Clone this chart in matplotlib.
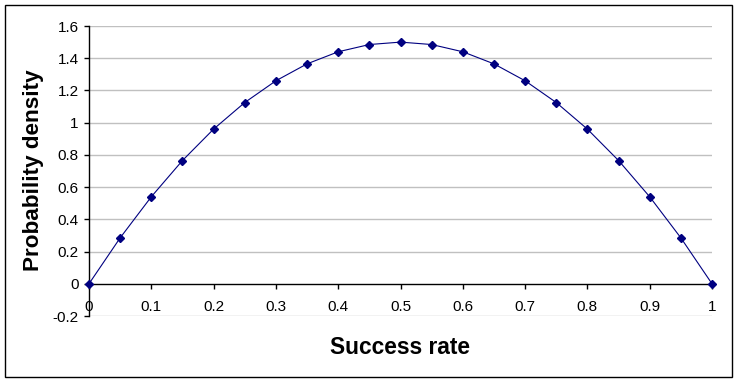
import numpy as np
import matplotlib.pyplot as plt
from matplotlib.patches import Rectangle

success_rate = [0, 0.05, 0.1, 0.15, 0.2, 0.25, 0.3, 0.35, 0.4, 0.45, 0.5,
                0.55, 0.6, 0.65, 0.7, 0.75, 0.8, 0.85, 0.9, 0.95, 1]
density = [0, 0.285, 0.54, 0.765, 0.96, 1.125, 1.26, 1.365, 1.44, 1.485, 1.5,
           1.485, 1.44, 1.365, 1.26, 1.125, 0.96, 0.765, 0.54, 0.285, 0]
x_ticks = [0, 0.1, 0.2, 0.3, 0.4, 0.5, 0.6, 0.7, 0.8, 0.9, 1]
x_labels = ["0", "0.1", "0.2", "0.3", "0.4", "0.5", "0.6", "0.7", "0.8", "0.9", "1"]
y_ticks = [-0.2, 0, 0.2, 0.4, 0.6, 0.8, 1, 1.2, 1.4, 1.6]
y_labels = ["-0.2", "0", "0.2", "0.4", "0.6", "0.8", "1", "1.2", "1.4", "1.6"]

plt.rcParams['font.family'] = ['Liberation Sans', 'DejaVu Sans']

fig = plt.figure(figsize=(7.39, 3.83), dpi=100)
W, H = 739, 383
fig.patches.append(Rectangle((5 / W, 1 - 377 / H), 727 / W, 372 / H,
                             transform=fig.transFigure, fill=False,
                             edgecolor='black', linewidth=1.0))

ax = fig.add_axes([89 / W, 1 - 316 / H, 623 / W, 290 / H])
ax.set_xlim(0, 1)
ax.set_ylim(-0.2, 1.6)

for y in y_ticks:
    if y != 0:
        ax.axhline(y, color='#c0c0c0', linewidth=1.0, zorder=0)

ax.plot(success_rate, density, color='#000080', linewidth=0.8,
        marker='D', markersize=4, markerfacecolor='#000080',
        markeredgecolor='#000080', zorder=3, clip_on=False)

ax.spines['top'].set_visible(False)
ax.spines['right'].set_visible(False)
ax.spines['bottom'].set_position(('data', 0))
ax.spines['left'].set_linewidth(1.0)
ax.spines['bottom'].set_linewidth(1.0)

ax.set_xticks(x_ticks)
ax.set_xticklabels(x_labels)
ax.set_yticks(y_ticks)
ax.set_yticklabels(y_labels)
ax.tick_params(axis='both', direction='out', length=3.5, width=1.0,
               labelsize=11, colors='black')
ax.tick_params(axis='x', pad=8)
ax.tick_params(axis='y', pad=4)

fig.text(400 / W, 1 - 347 / H, "Success rate", ha='center', va='center',
         fontsize=16.4, fontweight='bold')
fig.text(34 / W, 1 - 170 / H, "Probability density", ha='center', va='center',
         rotation=90, fontsize=16.2, fontweight='bold')

fig.savefig("out.png", dpi=100)
